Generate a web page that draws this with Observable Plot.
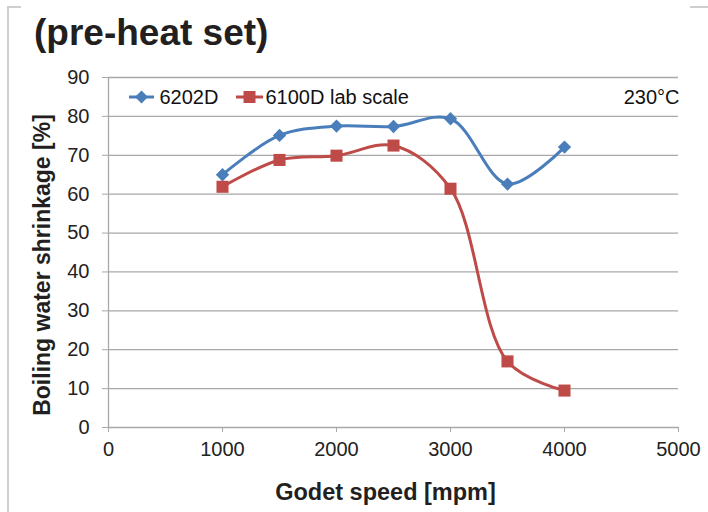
<!DOCTYPE html>
<html>
<head>
<meta charset="utf-8">
<script src="https://cdn.jsdelivr.net/npm/d3@7"></script>
<script src="https://cdn.jsdelivr.net/npm/@observablehq/plot@0.6"></script>
<style>
  html, body { margin: 0; padding: 0; background: #fff; }
  #wrap { position: relative; width: 708px; height: 512px; overflow: hidden; font-family: "Liberation Sans", Arial, sans-serif; }
  #wrap svg { position: absolute; left: 0; top: 0; }
  .title { position: absolute; left: 34px; top: 14px; font-size: 37px; font-weight: bold; color: #231f20; white-space: nowrap; line-height: 1; }
  .ylabel { position: absolute; left: 42px; top: 265px; width: 0; height: 0; }
  .ylabel span { position: absolute; left: 0; top: 0; transform: translate(-50%, -50%) rotate(-90deg); white-space: nowrap; font-size: 23px; font-weight: bold; color: #231f20; line-height: 1; }
  .frameV { position: absolute; left: 7px; top: 6px; width: 2px; height: 520px; background: #cfcfcf; }
  .frameH1 { position: absolute; left: 7px; top: 6px; width: 14px; height: 2px; background: #cfcfcf; }
  .frameH2 { position: absolute; left: 690px; top: 6px; width: 18px; height: 2px; background: #cfcfcf; }
</style>
</head>
<body>
<div id="wrap">
  <div class="frameV"></div><div class="frameH1"></div><div class="frameH2"></div>
  <div class="title">(pre-heat set)</div>
  <div class="ylabel"><span>Boiling water shrinkage [%]</span></div>
</div>
<script>
const speeds = [1000, 1500, 2000, 2500, 3000, 3500, 4000];
const s6202D = [65.0, 75.1, 77.5, 77.4, 79.4, 62.6, 72.1];
const s6100D = [61.9, 68.8, 69.9, 72.5, 61.4, 17.0, 9.5];
const xTicks = [0, 1000, 2000, 3000, 4000, 5000];
const yTicks = [0, 10, 20, 30, 40, 50, 60, 70, 80, 90];
const seriesNames = ["6202D", "6100D lab scale"];
const colors = ["#4a7ebb", "#be4b48"];

const rows = [];
speeds.forEach((s, i) => {
  rows.push({speed: s, value: s6202D[i], series: seriesNames[0]});
  rows.push({speed: s, value: s6100D[i], series: seriesNames[1]});
});
const blue = rows.filter(d => d.series === seriesNames[0]);
const red = rows.filter(d => d.series === seriesNames[1]);

const chart = Plot.plot({
  width: 708,
  height: 512,
  marginLeft: 108,
  marginRight: 30,
  marginTop: 77,
  marginBottom: 85,
  style: {fontFamily: "'Liberation Sans', Arial, sans-serif", fontSize: "20px", color: "#222", background: "transparent", overflow: "visible"},
  x: {domain: [0, 5000]},
  y: {domain: [0, 90]},
  marks: [
    Plot.gridY(yTicks, {stroke: "#a8a8a8", strokeOpacity: 1, strokeWidth: 1.3}),
    Plot.ruleX([0], {stroke: "#a8a8a8", strokeWidth: 1.3}),
    Plot.axisY(yTicks, {tickSize: 6, tickPadding: 13, stroke: "#a8a8a8", fill: "#222", label: null, fontSize: 20, tickFormat: d3.format("d")}),
    Plot.axisX(xTicks, {tickSize: 5, tickPadding: 9, stroke: "#a8a8a8", fill: "#222", label: null, fontSize: 20, tickFormat: d3.format("d")}),
    Plot.line(blue, {x: "speed", y: "value", stroke: colors[0], strokeWidth: 3, curve: "catmull-rom"}),
    Plot.line(red, {x: "speed", y: "value", stroke: colors[1], strokeWidth: 3, curve: "catmull-rom"}),
    Plot.dot(blue, {x: "speed", y: "value", symbol: "diamond2", r: 6, fill: colors[0], stroke: "none"}),
    Plot.dot(red, {x: "speed", y: "value", symbol: "square", r: 6.8, fill: colors[1], stroke: "none"}),
    Plot.text(["Godet speed [mpm]"], {frameAnchor: "bottom", lineAnchor: "middle", dy: 65, dx: -8, fontWeight: "bold", fontSize: 23.5, fill: "#231f20"}),
    Plot.text(["230°C"], {frameAnchor: "top-right", lineAnchor: "middle", dx: 1, dy: 20, fontSize: 20, fill: "#111", textAnchor: "end"}),
    Plot.text([seriesNames[0]], {frameAnchor: "top-left", lineAnchor: "middle", dx: 51, dy: 20, fontSize: 20, fill: "#111", textAnchor: "start"}),
    Plot.text([seriesNames[1]], {frameAnchor: "top-left", lineAnchor: "middle", dx: 157, dy: 20, fontSize: 20, fill: "#111", textAnchor: "start"})
  ]
});
const wrap = document.getElementById("wrap");
wrap.insertBefore(chart, wrap.firstChild);

// legend keys (line + symbol)
const svgNS = "http://www.w3.org/2000/svg";
const g = document.createElementNS(svgNS, "g");
function key(x1, x2, color, shape) {
  const l = document.createElementNS(svgNS, "line");
  l.setAttribute("x1", x1); l.setAttribute("x2", x2);
  l.setAttribute("y1", 97); l.setAttribute("y2", 97);
  l.setAttribute("stroke", color); l.setAttribute("stroke-width", 3);
  g.appendChild(l);
  const p = document.createElementNS(svgNS, "path");
  const cx = (x1 + x2) / 2, cy = 97;
  p.setAttribute("d", shape === "diamond"
    ? `M${cx},${cy-6.5}L${cx+6.5},${cy}L${cx},${cy+6.5}L${cx-6.5},${cy}Z`
    : `M${cx-6},${cy-6}h12v12h-12Z`);
  p.setAttribute("fill", color);
  g.appendChild(p);
}
key(129, 154, colors[0], "diamond");
key(236, 263, colors[1], "square");
chart.appendChild(g);
</script>
</body>
</html>
